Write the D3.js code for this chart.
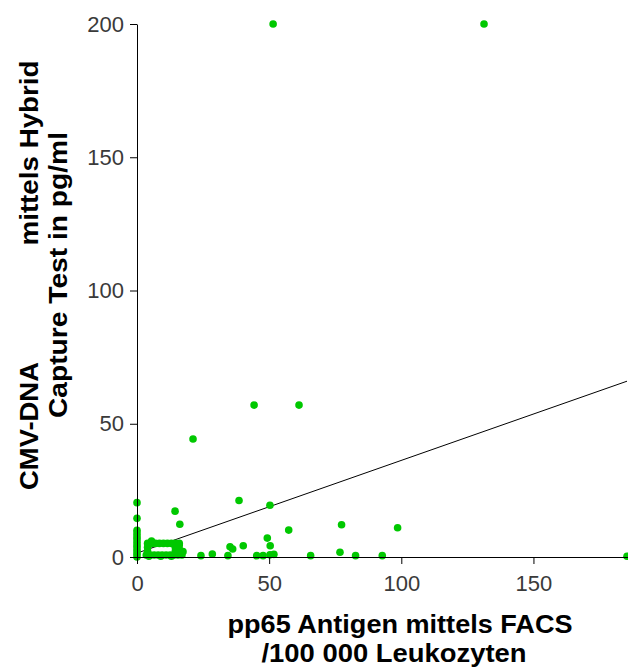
<!DOCTYPE html>
<html>
<head>
<meta charset="utf-8">
<script src="https://cdn.jsdelivr.net/npm/d3@7"></script>
<style>
  html, body { margin: 0; padding: 0; background: #fff; }
  svg { display: block; }
  .tick text { font-family: "Liberation Sans", Arial, sans-serif; font-size: 22px; fill: #3a3a3a; }
  .title { font-family: "Liberation Sans", Arial, sans-serif; font-size: 26px; font-weight: bold; fill: #000; }
</style>
</head>
<body>
<svg id="chart" width="628" height="667"></svg>
<script>
// pp65 antigen (FACS, per 100 000 leukocytes) vs. CMV-DNA (hybrid capture, pg/ml)
const pp65 = [
  51.5, 131.3, 44.3, 61.3, 21.2, 38.6, 50.3, 57.4, 49.3, 50.4, 40.2, 35.2, 36.2,
  24.2, 28.5, 34.4, 45.3, 47.7, 50.3, 51.8, 65.7, 77.4, 98.6, 76.8, 82.7, 92.8,
  185.4, 14.4, 16.2,
  // values at 0
  0, 0, 0, 0, 0, 0, 0, 0, 0, 0, 0, 0, 0,
  // low-level group
  4, 5.5, 7, 8.5, 10, 11.5, 13, 14.5, 16, 5.5,
  3.5, 5, 6.5, 8, 9.5, 11, 12.5, 14, 15.5, 17, 4.5, 9, 13,
  4, 4, 14.5, 14.5, 16, 16, 16, 17.4
];
const cmvDna = [
  200, 200, 57, 57, 44.3, 21.2, 19.4, 10.1, 7.1, 4.2, 4.2, 3.8, 3.0,
  0.5, 1.1, 0.5, 0.5, 0.5, 0.8, 1.0, 0.5, 12.1, 11.0, 1.8, 0.5, 0.5,
  0.3, 17.2, 12.3,
  20.4, 14.5, 10, 9, 8, 7, 6, 5, 4, 3, 2, 1, 0,
  5.1, 5.1, 5.1, 5.1, 5.1, 5.1, 5.1, 5.1, 5.1, 6.0,
  0.75, 0.75, 0.75, 0.75, 0.75, 0.75, 0.75, 0.75, 0.75, 0.75, 0.3, 0.3, 0.3,
  2.2, 3.7, 2.2, 3.7, 1.5, 3, 4.5, 2
];

// linear regression line
const fitIntercept = 1.45;
const fitSlope = 0.348;

const xTicks = [0, 50, 100, 150];
const yTicks = [0, 50, 100, 150, 200];
const xMax = 186;
const yMax = 200;

const xTitle = ["pp65 Antigen mittels FACS", "/100 000 Leukozyten"];
const yTitle = ["CMV-DNA", "mittels Hybrid", "Capture Test in pg/ml"];

const svg = d3.select("#chart");
const x = d3.scaleLinear().domain([0, xMax]).range([137, 628.6]);
const y = d3.scaleLinear().domain([0, yMax]).range([557, 24]);

const points = pp65.map((v, i) => ({ x: v, y: cmvDna[i] }));

// regression
const xEnd = d3.max(pp65);
svg.append("line")
  .attr("x1", x(0)).attr("y1", y(fitIntercept))
  .attr("x2", x(xEnd)).attr("y2", y(fitIntercept + fitSlope * xEnd))
  .attr("stroke", "#000").attr("stroke-width", 1);

// points
svg.append("g").selectAll("circle").data(points).join("circle")
  .attr("cx", d => x(d.x)).attr("cy", d => y(d.y))
  .attr("r", 3.8).attr("fill", "#00c800");

// axes
const gx = svg.append("g").attr("transform", `translate(0,${y(0)})`)
  .call(d3.axisBottom(x).tickValues(xTicks).tickSize(7).tickSizeOuter(0).tickPadding(11));
const gy = svg.append("g").attr("transform", `translate(${x(0)},0)`)
  .call(d3.axisLeft(y).tickValues(yTicks).tickSize(7).tickSizeOuter(0).tickPadding(6));
[gx, gy].forEach(g => {
  g.select(".domain").attr("stroke", "#000");
  g.selectAll(".tick line").attr("stroke", "#000");
  g.selectAll(".tick text").attr("font-family", null).attr("font-size", null);
});

// x title
svg.append("text").attr("class", "title")
  .attr("x", 400).attr("y", 632.5).attr("text-anchor", "middle")
  .attr("textLength", 345).attr("lengthAdjust", "spacingAndGlyphs")
  .text(xTitle[0]);
svg.append("text").attr("class", "title")
  .attr("x", 394).attr("y", 661.5).attr("text-anchor", "middle")
  .attr("textLength", 265).attr("lengthAdjust", "spacingAndGlyphs")
  .text(xTitle[1]);

// y title (rotated)
const yt = svg.append("g").attr("transform", "rotate(-90)");
yt.append("text").attr("class", "title")
  .attr("x", -426).attr("y", 38).attr("text-anchor", "middle")
  .attr("textLength", 128).attr("lengthAdjust", "spacingAndGlyphs")
  .text(yTitle[0]);
yt.append("text").attr("class", "title")
  .attr("x", -153).attr("y", 38).attr("text-anchor", "middle")
  .attr("textLength", 185).attr("lengthAdjust", "spacingAndGlyphs")
  .text(yTitle[1]);
yt.append("text").attr("class", "title")
  .attr("x", -275).attr("y", 67).attr("text-anchor", "middle")
  .attr("textLength", 286).attr("lengthAdjust", "spacingAndGlyphs")
  .text(yTitle[2]);
</script>
</body>
</html>
